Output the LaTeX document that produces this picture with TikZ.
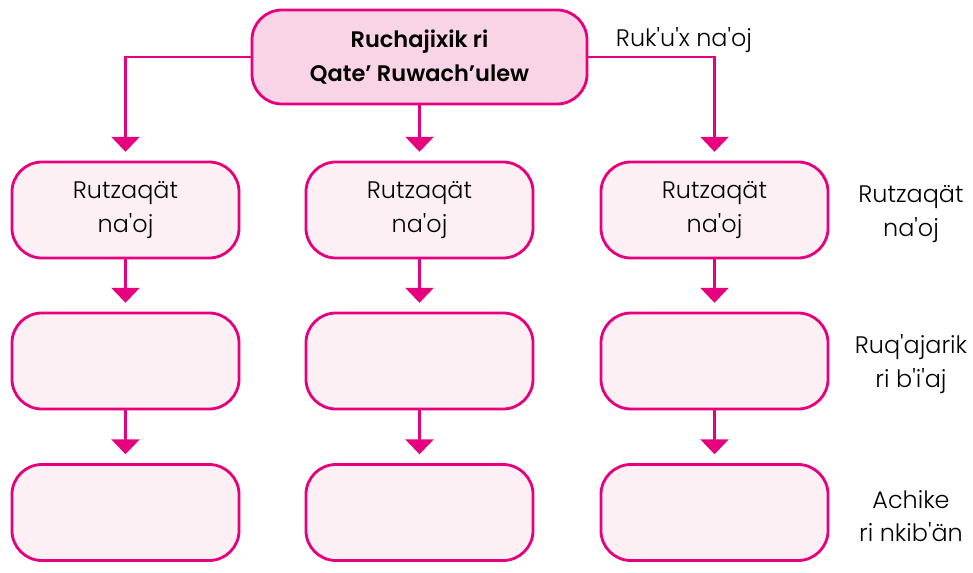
\documentclass[tikz,border=0pt]{standalone}
\usepackage{fontspec}
\setmainfont{Poppins}[UprightFont=*-Light,BoldFont=*-SemiBold,Ligatures=TeXOff]
\usetikzlibrary{arrows.meta}

\definecolor{magline}{HTML}{E6007E}
\definecolor{topfill}{HTML}{F9D3E6}
\definecolor{boxfill}{HTML}{FDF0F5}

\newcommand*{\colA}{125.5}
\newcommand*{\colB}{419.5}
\newcommand*{\colC}{714.5}
\newcommand*{\rowA}{210}
\newcommand*{\rowB}{361}
\newcommand*{\rowC}{512.5}

\begin{document}
\begin{tikzpicture}
[
	x=0.025cm, y=-0.025cm,
	topbox/.style={rectangle,rounded corners=0.75cm,draw=magline,line width=2pt,fill=topfill,minimum width=8.375cm,minimum height=2.35cm,align=center,font=\fontsize{16}{24}\selectfont\bfseries},
	colbox/.style={rectangle,rounded corners=0.75cm,draw=magline,line width=2pt,fill=boxfill,minimum width=5.675cm,minimum height=2.4cm,align=center,font=\fontsize{17}{24}\selectfont},
	sidelbl/.style={align=center,font=\fontsize{17}{24}\selectfont},
	arr/.style={draw=magline,line width=2pt,-{Triangle[width=0.7cm,length=0.375cm]},shorten >=0.22cm},
]

	\useasboundingbox (0,0) rectangle (973,572);

	% top box
	\node[topbox] (top) at (\colB,57) {Ruchajixik ri\\Qate’ Ruwach’ulew};

	% boxes
	\node[colbox] (a1) at (\colA,\rowA) {Rutzaqät\\na'oj};
	\node[colbox] (b1) at (\colB,\rowA) {Rutzaqät\\na'oj};
	\node[colbox] (c1) at (\colC,\rowA) {Rutzaqät\\na'oj};
	\node[colbox] (a2) at (\colA,\rowB) {};
	\node[colbox] (b2) at (\colB,\rowB) {};
	\node[colbox] (c2) at (\colC,\rowB) {};
	\node[colbox] (a3) at (\colA,\rowC) {};
	\node[colbox] (b3) at (\colB,\rowC) {};
	\node[colbox] (c3) at (\colC,\rowC) {};

	% labels
	\node[sidelbl] (main) at (684,40) {Ruk'u'x na'oj};
	\node[sidelbl] (lbl1) at (911,214) {Rutzaqät\\na'oj};
	\node[sidelbl] (lbl2) at (911,364) {Ruq'ajarik\\ri b'i'aj};
	\node[sidelbl] (lbl3) at (911,516) {Achike\\ri nkib'än};

	% arrows
	\draw[arr] (top.west) -| (a1.north);
	\draw[arr] (top.south) -- (b1.north);
	\draw[arr] (top.east) -| (c1.north);
	\draw[arr] (a1) -- (a2);
	\draw[arr] (b1) -- (b2);
	\draw[arr] (c1) -- (c2);
	\draw[arr] (a2) -- (a3);
	\draw[arr] (b2) -- (b3);
	\draw[arr] (c2) -- (c3);

\end{tikzpicture}
\end{document}
